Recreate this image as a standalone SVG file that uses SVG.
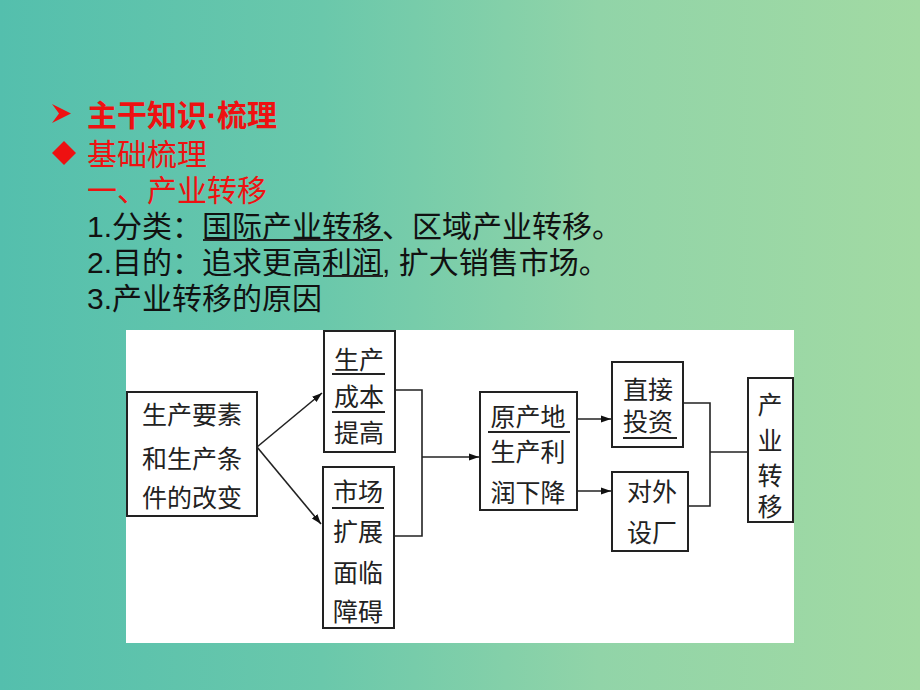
<svg xmlns="http://www.w3.org/2000/svg" width="920" height="690" viewBox="0 0 920 690">
<defs>
<linearGradient id="bg" x1="0" y1="0" x2="1" y2="0">
<stop offset="0" stop-color="#54bfad"/>
<stop offset="0.35" stop-color="#6ac8ab"/>
<stop offset="0.65" stop-color="#91d4a8"/>
<stop offset="1" stop-color="#a2daa3"/>
</linearGradient>
<marker id="ah" viewBox="0 0 10 10" refX="10" refY="5" markerWidth="10" markerHeight="10" markerUnits="userSpaceOnUse" orient="auto">
<path d="M0,1.5 L10,5 L0,8.5 z" fill="#111"/>
</marker>
<style>
.red{font-family:"Liberation Sans","Noto Sans CJK SC",sans-serif;font-size:30px;fill:#ee1111}
.blk{font-family:"Liberation Sans","Noto Sans CJK SC",sans-serif;font-size:30px;fill:#111}
.bx{fill:#fff;stroke:#222;stroke-width:2}
.t{font-family:"Liberation Serif","Noto Sans CJK SC",serif;font-size:25px;fill:#222;text-anchor:middle}
.ul{stroke:#222;stroke-width:2}
.con{fill:none;stroke:#222;stroke-width:1.6}
</style>
</defs>
<rect width="920" height="690" fill="url(#bg)"/>
<g id="header">
<polygon points="52,104 71,113.5 52,123 59,113.5" fill="#ee1111"/>
<text class="red" x="87" y="126" font-weight="bold">主干知识·梳理</text>
<polygon points="64,141 76,153 64,165 52,153" fill="#ee1111"/>
<text class="red" x="87" y="165">基础梳理</text>
<text class="red" x="87" y="201">一、产业转移</text>
<text class="blk" x="87" y="237">1.分类：国际产业转移、区域产业转移。</text>
<line class="ul" x1="203" y1="240" x2="383" y2="240" stroke="#111"/>
<text class="blk" x="87" y="273">2.目的：追求更高利润, 扩大销售市场。</text>
<line class="ul" x1="323" y1="276" x2="383" y2="276" stroke="#111"/>
<text class="blk" x="87" y="309">3.产业转移的原因</text>
</g>
<rect x="126" y="330" width="668" height="313" fill="#fff"/>
<g id="connectors">
<line class="con" x1="257" y1="447" x2="322" y2="393" marker-end="url(#ah)"/>
<line class="con" x1="257" y1="447" x2="321" y2="524" marker-end="url(#ah)"/>
<polyline class="con" points="395,390 422,390 422,536 394,536"/>
<line class="con" x1="422" y1="457" x2="479" y2="457" marker-end="url(#ah)"/>
<line class="con" x1="577" y1="419" x2="611" y2="419" marker-end="url(#ah)"/>
<line class="con" x1="577" y1="491" x2="611" y2="491" marker-end="url(#ah)"/>
<polyline class="con" points="683,403 710,403 710,506 688,506"/>
<line class="con" x1="710" y1="452" x2="748" y2="452"/>
</g>
<g id="n1">
<rect class="bx" x="127" y="392" width="130" height="124"/>
<text class="t" x="192" y="424">生产要素</text>
<text class="t" x="192" y="468">和生产条</text>
<text class="t" x="192" y="507">件的改变</text>
</g>
<g id="n2">
<rect class="bx" x="324" y="331" width="71" height="121"/>
<text class="t" x="359" y="369">生产</text>
<line class="ul" x1="332" y1="374" x2="385" y2="374"/>
<text class="t" x="359" y="406">成本</text>
<line class="ul" x1="332" y1="412" x2="385" y2="412"/>
<text class="t" x="359" y="442">提高</text>
</g>
<g id="n3">
<rect class="bx" x="323" y="467" width="71" height="161"/>
<text class="t" x="358" y="501">市场</text>
<line class="ul" x1="332" y1="508" x2="384" y2="508"/>
<text class="t" x="358" y="541">扩展</text>
<text class="t" x="358" y="582">面临</text>
<text class="t" x="358" y="621">障碍</text>
</g>
<g id="n4">
<rect class="bx" x="480" y="392" width="97" height="118"/>
<text class="t" x="528" y="426">原产地</text>
<line class="ul" x1="488" y1="432" x2="570" y2="432"/>
<text class="t" x="528" y="461">生产利</text>
<text class="t" x="528" y="502">润下降</text>
</g>
<g id="n5">
<rect class="bx" x="612" y="362" width="71" height="85"/>
<text class="t" x="648" y="399">直接</text>
<text class="t" x="648" y="431">投资</text>
<line class="ul" x1="623" y1="438" x2="677" y2="438"/>
</g>
<g id="n6">
<rect class="bx" x="612" y="472" width="76" height="79"/>
<text class="t" x="652" y="501">对外</text>
<text class="t" x="652" y="542">设厂</text>
</g>
<g id="n7">
<rect class="bx" x="748" y="378" width="45" height="144"/>
<text class="t" x="770" y="414">产</text>
<text class="t" x="770" y="450">业</text>
<text class="t" x="770" y="485">转</text>
<text class="t" x="770" y="516">移</text>
</g>
</svg>
